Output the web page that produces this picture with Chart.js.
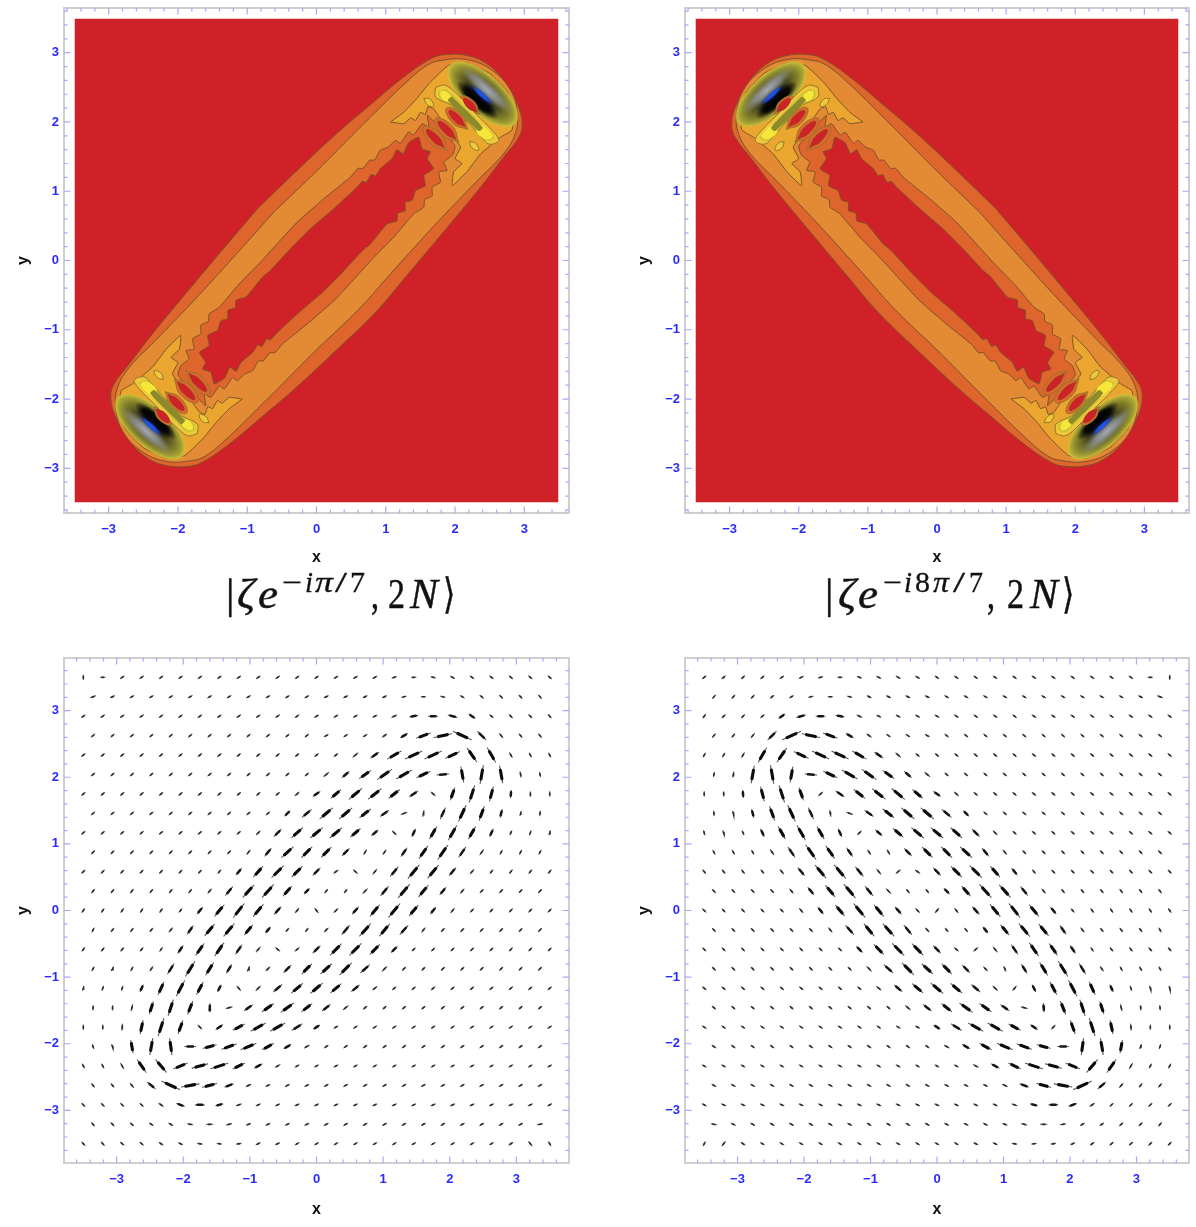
<!DOCTYPE html>
<html><head><meta charset="utf-8">
<script src="https://cdn.jsdelivr.net/npm/chart.js@4/dist/chart.umd.min.js"></script>
<style>
html,body{margin:0;padding:0;background:#fff;width:1196px;height:1227px;overflow:hidden}
canvas{position:absolute;filter:blur(0.7px)}
svg.t{position:absolute;left:0;top:0;filter:blur(0.4px)}
svg.t text{font-family:"Liberation Serif",serif;fill:#111;stroke:#111;stroke-width:.45px;font-size:42px}
svg.t .i{font-style:italic}
svg.t .s{font-size:29px;stroke-width:.3px}
</style></head><body>
<canvas id="c1" width="590" height="575" style="left:0;top:0"></canvas>
<canvas id="c2" width="575" height="575" style="left:621px;top:0"></canvas>
<canvas id="c3" width="590" height="575" style="left:0;top:650px"></canvas>
<canvas id="c4" width="575" height="575" style="left:621px;top:650px"></canvas>
<svg class="t" width="1196" height="650">
<text x="226" y="608">|</text>
<text class="i" x="237" y="608" textLength="18" lengthAdjust="spacingAndGlyphs">ζ</text>
<text class="i" x="258" y="608" textLength="20" lengthAdjust="spacingAndGlyphs">e</text>
<text class="s" x="282" y="592" textLength="20" lengthAdjust="spacingAndGlyphs">−</text>
<text class="s i" x="305" y="592" textLength="8" lengthAdjust="spacingAndGlyphs">i</text>
<text class="s i" x="315" y="592" textLength="18" lengthAdjust="spacingAndGlyphs">π</text>
<text class="s" x="335" y="592" textLength="12" lengthAdjust="spacingAndGlyphs">/</text>
<text class="s" x="350" y="592" textLength="15" lengthAdjust="spacingAndGlyphs">7</text>
<text x="371" y="608" textLength="8" lengthAdjust="spacingAndGlyphs">,</text>
<text x="388" y="608" textLength="17" lengthAdjust="spacingAndGlyphs">2</text>
<text class="i" x="410" y="608" textLength="28" lengthAdjust="spacingAndGlyphs">N</text>
<text x="443" y="608" textLength="12" lengthAdjust="spacingAndGlyphs">⟩</text>
<text x="825" y="608">|</text>
<text class="i" x="838" y="608" textLength="18" lengthAdjust="spacingAndGlyphs">ζ</text>
<text class="i" x="858" y="608" textLength="20" lengthAdjust="spacingAndGlyphs">e</text>
<text class="s" x="883" y="592" textLength="19" lengthAdjust="spacingAndGlyphs">−</text>
<text class="s i" x="904" y="592" textLength="8" lengthAdjust="spacingAndGlyphs">i</text>
<text class="s" x="915" y="592" textLength="15" lengthAdjust="spacingAndGlyphs">8</text>
<text class="s i" x="933" y="592" textLength="16" lengthAdjust="spacingAndGlyphs">π</text>
<text class="s" x="953" y="592" textLength="12" lengthAdjust="spacingAndGlyphs">/</text>
<text class="s" x="969" y="592" textLength="14" lengthAdjust="spacingAndGlyphs">7</text>
<text x="987" y="608" textLength="8" lengthAdjust="spacingAndGlyphs">,</text>
<text x="1007" y="608" textLength="17" lengthAdjust="spacingAndGlyphs">2</text>
<text class="i" x="1030" y="608" textLength="28" lengthAdjust="spacingAndGlyphs">N</text>
<text x="1062" y="608" textLength="12" lengthAdjust="spacingAndGlyphs">⟩</text>
</svg>
<script>
// ---- axis values
const tickValues=[-3,-2,-1,0,1,2,3];
const minorTicks=[-3.6,-3.4,-3.2,-2.8,-2.6,-2.4,-2.2,-1.8,-1.6,-1.4,-1.2,-0.8,-0.6,-0.4,-0.2,0.2,0.4,0.6,0.8,1.2,1.4,1.6,1.8,2.2,2.4,2.6,2.8,3.2,3.4,3.6];
const contourRange=3.645, fieldRange=3.79;
// ---- contour levels: half-outlines of the upper right lobe, in x,y plot units (other half is point-symmetric)
const plotBackground=[[-3.49,3.49],[3.49,3.49],[3.49,-3.49],[-3.49,-3.49],[-3.49,3.49]];
const level1=[[-0.85,0.75],[-0.28,1.30],[0.3,1.84],[0.78,2.25],[1.26,2.65],[1.645,2.91],[1.84,2.97],[2.17,2.96],[2.46,2.84],[2.70,2.60],[2.90,2.26],[2.97,1.97],[2.92,1.78],[2.70,1.49],[2.37,1.06],[1.79,0.36],[1.31,-0.21]];
const level2=[[-0.615,0.70],[0.0,1.29],[0.587,1.879],[0.78,2.07],[1.26,2.54],[1.60,2.82],[1.81,2.89],[2.17,2.90],[2.53,2.75],[2.80,2.46],[2.90,2.12],[2.87,1.83],[2.70,1.54],[2.33,1.16],[1.79,0.60],[1.07,-0.19]];
const level3=[[-0.808,-0.024],[-0.279,0.554],[0.106,0.892],[0.491,1.205],[0.60,1.33],[0.67,1.33],[0.77,1.45],[0.84,1.45],[0.92,1.59],[1.04,1.64],[1.14,1.735],[1.21,1.69],[1.33,1.855],[1.40,1.81],[1.525,1.975],[1.62,1.93],[1.60,2.095],[1.70,2.0],[1.85,1.85],[2.0,1.65],[1.96,1.52],[1.84,1.42],[1.885,1.30],[1.765,1.28],[1.79,1.13],[1.67,1.06],[1.67,0.93],[1.56,0.88],[1.55,0.77],[1.405,0.675],[1.116,0.338]];
const level4=[[-0.664,-0.144],[-0.375,0.169],[-0.086,0.458],[0.25,0.747],[0.587,1.06],[0.66,1.14],[0.72,1.13],[0.79,1.24],[0.85,1.22],[0.92,1.325],[1.09,1.47],[1.16,1.60],[1.25,1.54],[1.33,1.70],[1.475,1.78],[1.525,1.61],[1.645,1.57],[1.60,1.47],[1.69,1.325],[1.55,1.23],[1.57,1.08],[1.43,1.01],[1.38,0.87],[1.28,0.84],[1.28,0.72],[1.17,0.68],[1.16,0.57],[1.02,0.53],[0.78,0.24]];
// ---- closed contours near the upper right lobe
const goldLobe=[[1.07,2.00],[1.26,2.14],[1.45,2.34],[1.62,2.55],[1.79,2.72],[1.91,2.82],[2.17,2.85],[2.50,2.70],[2.76,2.43],[2.85,2.12],[2.82,1.88],[2.655,1.78],[2.37,1.54],[2.17,1.28],[1.96,1.08],[1.98,1.28],[2.10,1.40],[2.0,1.47],[2.08,1.64],[1.93,1.83],[1.81,2.02],[1.69,2.19],[1.61,2.22],[1.57,2.11],[1.50,2.14],[1.43,2.02],[1.36,2.06],[1.26,1.975],[1.07,2.00]];
const fingerRing1=[[1.886,1.589],[1.786,1.829],[1.546,1.929],[1.646,1.689],[1.886,1.589]];
const fingerRing2=[[2.055,1.709],[1.955,1.949],[1.715,2.049],[1.815,1.809],[2.055,1.709]];
const fingerRing3=[[2.185,1.892],[2.095,2.112],[1.875,2.202],[1.965,1.982],[2.185,1.892]];
const fingerRing4=[[2.35,2.11],[2.275,2.295],[2.09,2.37],[2.165,2.185],[2.35,2.11]];
const fingerRed1=[[1.843,1.632],[1.751,1.794],[1.589,1.886],[1.681,1.724],[1.843,1.632]];
const fingerRed2=[[2.012,1.752],[1.92,1.914],[1.758,2.006],[1.85,1.844],[2.012,1.752]];
const fingerRed3=[[2.143,1.934],[2.065,2.082],[1.917,2.16],[1.995,2.012],[2.143,1.934]];
const fingerRed4=[[2.315,2.145],[2.255,2.275],[2.125,2.335],[2.185,2.205],[2.315,2.145]];
const yellowBand=[[1.72,2.50],[1.86,2.53],[2.05,2.38],[2.32,2.095],[2.535,1.88],[2.63,1.73],[2.49,1.68],[2.36,1.80],[2.13,2.06],[1.95,2.24],[1.72,2.36],[1.72,2.50]];
const midBand=[[1.765,2.46],[1.885,2.46],[2.39,1.95],[2.56,1.78],[2.44,1.73],[2.33,1.85],[1.92,2.27],[1.765,2.36],[1.765,2.46]];
const brightEndA=[[1.79,2.45],[1.87,2.44],[1.95,2.35],[1.87,2.30],[1.79,2.37],[1.79,2.45]];
const brightEndB=[[2.37,1.97],[2.46,1.90],[2.54,1.79],[2.45,1.75],[2.31,1.86],[2.37,1.97]];
const oliveStripe=[[1.95,2.37],[2.40,1.92],[2.34,1.87],[1.90,2.31],[1.95,2.37]];
const islandA=[[1.55,2.34],[1.64,2.33],[1.69,2.225],[1.60,2.25],[1.55,2.34]];
const islandB=[[2.21,1.72],[2.30,1.69],[2.34,1.59],[2.24,1.63],[2.21,1.72]];
const lobeCentres=[[2.40,2.40],[-2.40,-2.40]];
const lobeTilt=[42,222];
// ---- field arrows: rows top to bottom, alternating 25 and 24 arrows. Direction in degrees, length in plot units x 74
const fieldAngle=[
[90,0,35,35,35,35,35,35,35,35,35,35,35,30,30,30,20,0,-15,-30,-35,-40,-40,-40,-40],
[20,25,30,30,30,30,30,30,30,30,30,30,25,25,25,25,15,0,-15,-30,-40,-45,-45,-50],
[35,35,35,35,35,35,35,35,35,35,35,35,30,30,30,25,25,10,0,-15,-35,-40,-45,-45,-50],
[40,40,40,40,40,40,40,40,40,40,40,40,30,35,35,35,30,20,12,-25,-45,-50,-50,-50],
[40,40,40,40,40,40,40,40,40,40,40,40,40,40,40,35,30,25,25,25,-55,-60,-60,-60,-60],
[40,40,40,40,40,40,40,40,40,40,40,40,40,40,35,35,30,25,5,-80,80,-80,-80,-80],
[40,40,40,40,40,40,40,40,40,40,40,40,35,40,40,38,38,35,-40,70,72,75,85,85,90],
[40,40,40,40,40,40,40,40,40,40,45,40,40,40,38,35,20,80,65,65,70,75,75,85],
[40,40,40,40,40,40,40,40,40,45,45,42,40,40,40,40,-45,65,60,60,60,65,65,70,75],
[45,45,45,45,45,45,45,45,50,50,42,45,45,45,60,55,55,55,55,55,55,60,60,60],
[45,45,45,45,45,45,45,50,50,48,45,45,45,35,-40,50,50,50,50,50,50,50,50,50,50],
[50,50,50,50,50,50,50,50,48,48,48,45,50,50,45,50,50,50,50,50,45,45,45,45],
[55,55,55,55,55,50,50,50,52,50,48,50,-50,45,48,50,50,50,50,50,45,45,45,45,45],
[60,50,50,50,50,55,50,50,50,50,50,50,45,50,48,50,48,50,45,45,45,45,45,45],
[50,50,50,50,55,55,55,55,55,50,-40,40,45,45,45,45,45,45,45,45,45,45,45,45,45],
[60,60,60,55,58,58,58,58,65,45,45,45,42,45,42,45,45,45,45,45,45,45,45,45],
[75,70,70,65,65,62,62,62,-50,45,40,40,40,40,40,40,40,40,40,40,40,40,40,40,40],
[85,85,75,72,72,68,85,15,35,35,35,38,38,40,40,40,40,40,40,40,40,40,40,40],
[90,90,85,78,72,70,-45,35,28,28,28,32,32,30,35,35,35,35,35,35,35,35,35,35,35],
[-70,-70,-80,80,-82,0,15,20,22,28,30,30,35,35,35,35,35,35,35,35,35,35,35,35],
[-60,-60,-60,-55,-50,22,15,18,25,28,30,30,30,30,30,30,30,30,30,30,30,30,30,30,30],
[-50,-50,-50,-40,-25,10,15,20,25,25,25,25,30,30,30,30,30,30,30,30,30,30,30,30],
[-45,-45,-45,-45,-35,-20,0,15,20,25,25,25,25,25,25,25,25,25,25,25,25,25,25,25,30],
[-50,-45,-40,-35,-30,-10,0,15,20,25,25,25,30,30,30,30,30,30,30,30,30,30,25,10],
[-45,-45,-40,-40,-35,-25,-10,-5,10,25,25,30,30,30,30,30,30,30,30,30,30,30,35,-50,-60]];
const fieldLength=[
[5,5,5,5,5,5,5,5,5,5,5,5,5,5,5,5,5,5,5,5,5,5,5,5,5],
[6,5,5,5,5,5,5,5,5,5,5,5,5,5,5,5,5,5,5,5,5,5,5,5],
[5,5,5,5,5,5,5,5,5,5,5,5,5,5,5,5,6,9,10,10,8,5,5,5,5],
[5,5,5,5,5,5,5,5,5,5,5,5,5,5,5,6,9,16,20,22,13,6,5,5],
[5,5,5,5,5,5,5,5,5,5,5,5,5,5,7,11,17,20,20,17,18,18,6,5,5],
[5,5,5,5,5,5,5,5,5,5,5,5,7,10,15,19,19,16,13,17,20,19,6,5],
[5,5,5,5,5,5,5,5,5,5,5,6,9,14,18,18,15,11,6,14,19,16,8,5,5],
[5,5,5,5,5,5,5,5,5,5,8,13,18,18,15,11,7,7,13,19,16,9,5,5],
[5,5,5,5,5,5,5,5,5,6,11,16,17,17,14,9,6,9,15,18,15,9,5,5,5],
[5,5,5,5,5,5,5,5,6,11,17,16,15,11,6,6,11,16,19,13,7,5,5,5],
[5,5,5,5,5,5,5,5,9,15,18,16,11,6,6,7,13,19,18,11,6,5,5,5,5],
[5,5,5,5,5,5,6,12,18,19,14,8,5,5,7,13,19,16,10,6,5,5,5,5],
[5,5,5,5,5,5,9,16,19,17,11,6,6,6,10,16,19,15,9,6,5,5,5,5,5],
[5,5,5,5,6,11,16,18,14,8,5,5,6,13,18,17,13,6,5,5,5,5,5,5],
[5,5,5,5,5,10,15,17,12,7,6,6,11,17,18,15,9,5,5,5,5,5,5,5,5],
[5,5,5,6,13,19,16,11,6,6,11,15,16,18,13,7,5,5,5,5,5,5,5,5],
[5,5,5,8,15,19,15,8,6,7,12,16,17,15,11,6,5,5,5,5,5,5,5,5,5],
[5,5,7,14,18,15,9,7,11,15,17,14,11,7,5,5,5,5,5,5,5,5,5,5],
[5,5,7,15,20,15,6,9,14,18,18,13,8,5,5,5,5,5,5,5,5,5,5,5,5],
[5,5,14,18,18,12,15,17,18,14,9,6,5,5,5,5,5,5,5,5,5,5,5,5],
[5,5,7,17,18,16,18,20,14,10,6,5,5,5,5,5,5,5,5,5,5,5,5,5,5],
[5,5,6,11,22,20,16,10,6,5,5,5,5,5,5,5,5,5,5,5,5,5,5,5],
[5,5,5,5,6,9,10,8,6,5,5,5,5,5,5,5,5,5,5,5,5,5,5,5,5],
[5,5,5,5,5,6,7,6,5,5,5,5,5,5,5,5,5,5,5,5,5,5,5,6],
[5,5,5,5,5,5,5,5,5,5,5,5,5,5,5,5,5,5,5,5,5,5,5,6,5]];
const fieldStep=0.2917, fieldStart=-3.5;

const C={red:'#D02129',dark:'#DE652B',orange:'#E28B34',gold:'#EBA62F',yellow:'#F0C63A',bright:'#F7E63A',mid:'#C8C035',olive:'#8E8A2C',line:'#7d5228',soft:'#8f7a2c'};
const toPts=(a,sx)=>a.map(p=>({x:p[0]*sx,y:p[1]}));
const loop=h=>{const o=h.concat(h.map(p=>[-p[0],-p[1]]));o.push(h[0]);return o};
const neg=a=>a.map(p=>[-p[0],-p[1]]);
function poly(pts,sx,fill,tension,line){return {type:'scatter',showLine:true,data:toPts(pts,sx),fill:'shape',backgroundColor:fill,borderColor:line==='none'?fill:(line||C.line),borderWidth:line==='none'?0:1,pointRadius:0,tension:tension}}

function lobeSprite(){
  const W=120,c=document.createElement('canvas');c.width=W;c.height=W;const g=c.getContext('2d');
  const oval=(cy,rx,ry,stops)=>{g.save();g.translate(W/2,cy);g.scale(rx,ry);const r=g.createRadialGradient(0,0,0,0,0,1);stops.forEach(s=>r.addColorStop(s[0],s[1]));g.fillStyle=r;g.beginPath();g.arc(0,0,1,0,Math.PI*2);g.fill();g.restore()};
  oval(W/2,45,20,[[0,'#3a3a1a'],[.45,'#4a4a20'],[.7,'#7d7a28'],[.87,'#a5a033'],[.95,'#c8bc38'],[1,'rgba(225,190,55,0)']]);
  oval(W/2+8,27,8,[[0,'rgba(0,0,0,1)'],[.6,'rgba(0,0,0,.92)'],[1,'rgba(0,0,0,0)']]);
  oval(W/2-6,35,8,[[0,'rgba(172,177,192,.95)'],[.5,'rgba(150,155,160,.72)'],[1,'rgba(140,140,120,0)']]);
  oval(W/2+3,22,5,[[0,'rgba(15,15,35,.95)'],[1,'rgba(15,15,35,0)']]);
  oval(W/2+1,15,3,[[0,'rgba(30,90,245,1)'],[.55,'rgba(30,80,230,.9)'],[1,'rgba(30,60,200,0)']]);
  return c;
}
function contourSets(sx){
  const sprite=lobeSprite();
  const base=[poly(plotBackground,1,C.red,0,'none'),poly(loop(level1),sx,C.dark,.4),poly(loop(level2),sx,C.orange,.4)];
  const both=(a)=>[a,neg(a)];
  const add=(a,f,t,l)=>both(a).forEach(p=>base.push(poly(p,sx,f,t,l)));
  add(goldLobe,C.gold,.12);
  base.push({type:'scatter',data:lobeCentres.map(p=>({x:p[0]*sx,y:p[1]})),pointStyle:sprite,pointRotation:lobeTilt.map(a=>a*sx),pointRadius:40,showLine:false});
  base.push(poly(loop(level3),sx,C.dark,.14));
  base.push(poly(loop(level4),sx,C.red,.14));
  [fingerRing4,fingerRing3,fingerRing2,fingerRing1].forEach(f=>add(f,C.dark,.5,C.soft));
  add(islandA,C.yellow,.5,C.soft);add(islandB,C.yellow,.5,C.soft);
  add(yellowBand,C.yellow,.35,C.soft);add(midBand,C.mid,.35,'none');
  add(brightEndA,C.bright,.4,'none');add(brightEndB,C.bright,.4,'none');add(oliveStripe,C.olive,.25,'none');
  [fingerRed1,fingerRed2,fingerRed3,fingerRed4].forEach(f=>add(f,C.red,.5,'#9a3a22'));
  return base.reverse();
}
function fieldSets(sx){
  const shaft=[],heads=[[],[],[]];
  fieldAngle.forEach((row,r)=>{
    const y=-fieldStart-fieldStep*r, off=r%2?fieldStep/2:0;
    row.forEach((a,c)=>{
      const x=(fieldStart+off+fieldStep*c)*sx, L=fieldLength[r][c]/74, t=a*sx*Math.PI/180;
      const dx=L*Math.cos(t)/2,dy=L*Math.sin(t)/2;
      shaft.push({x:x-dx,y:y-dy},{x:x+dx,y:y+dy},{x:NaN,y:NaN});
      const k=fieldLength[r][c]<8?0:fieldLength[r][c]<14?1:2, h=k===0?.4:.5;
      heads[k].push({x:x-dx*h,y:y-dy*h},{x:x+dx*h,y:y+dy*h},{x:NaN,y:NaN});
    });
  });
  const line=(d,w,col)=>({type:'scatter',showLine:true,data:d,borderColor:col,borderWidth:w,pointRadius:0,spanGaps:false,borderCapStyle:'round'});
  return [line(heads[2],3.1,'#0c0c0c'),line(heads[1],2.5,'#161616'),line(heads[0],1.7,'#2e2e2e'),line(shaft,1.1,'rgba(45,45,45,.8)')];
}
const innerTicks={id:'innerTicks',afterDatasetsDraw(ch){
  const g=ch.ctx,a=ch.chartArea,X=ch.scales.x,Y=ch.scales.y;g.save();
  g.strokeStyle='#cfcfcf';g.lineWidth=2;g.strokeRect(a.left,a.top,a.width,a.height);
  g.strokeStyle='#a8a8ff';g.lineWidth=1.2;g.beginPath();
  const mark=(v,len)=>{const px=X.getPixelForValue(v),py=Y.getPixelForValue(v);
    g.moveTo(px,a.bottom);g.lineTo(px,a.bottom-len);g.moveTo(px,a.top);g.lineTo(px,a.top+len);
    g.moveTo(a.left,py);g.lineTo(a.left+len,py);g.moveTo(a.right,py);g.lineTo(a.right-len,py);};
  minorTicks.forEach(v=>mark(v,3.5));tickValues.forEach(v=>mark(v,6.5));
  g.stroke();g.restore();
}};
function axis(range,title,height,pad,titlePad){
  return {type:'linear',min:-range,max:range,grid:{display:false,drawTicks:false},border:{display:false},
    afterBuildTicks:s=>{s.ticks=tickValues.map(v=>({value:v}))},
    ticks:{autoSkip:false,maxRotation:0,padding:pad,color:'#2a2aff',font:{family:'"Liberation Sans"',weight:'bold',size:13},callback:v=>v<0?'\u2212'+(-v):String(v)},
    title:{display:true,text:title,color:'#111',padding:titlePad,font:{family:'"Liberation Sans"',weight:'bold',size:16}},
    afterFit:s=>{if(s.isHorizontal())s.height=height;else s.width=height;s.paddingTop=s.paddingBottom=s.paddingLeft=s.paddingRight=0}};
}
function build(id,sets,range,rightPad,xTitleBottom){
  return new Chart(document.getElementById(id),{type:'scatter',data:{datasets:sets},plugins:[innerTicks],
    options:{responsive:false,animation:false,events:[],layout:{autoPadding:false,padding:{left:0,top:8,right:rightPad,bottom:0}},
      plugins:{legend:{display:false},tooltip:{enabled:false},title:{display:false}},
      scales:{x:axis(range,'x',62,9,{top:0,bottom:xTitleBottom}),y:axis(range,'y',64,5,{top:14,bottom:0})}}});
}
build('c1',contourSets(1),contourRange,21,8);
build('c2',contourSets(-1),contourRange,7,8);
build('c3',fieldSets(1),fieldRange,21,6);
build('c4',fieldSets(-1),fieldRange,7,6);
</script></body></html>
